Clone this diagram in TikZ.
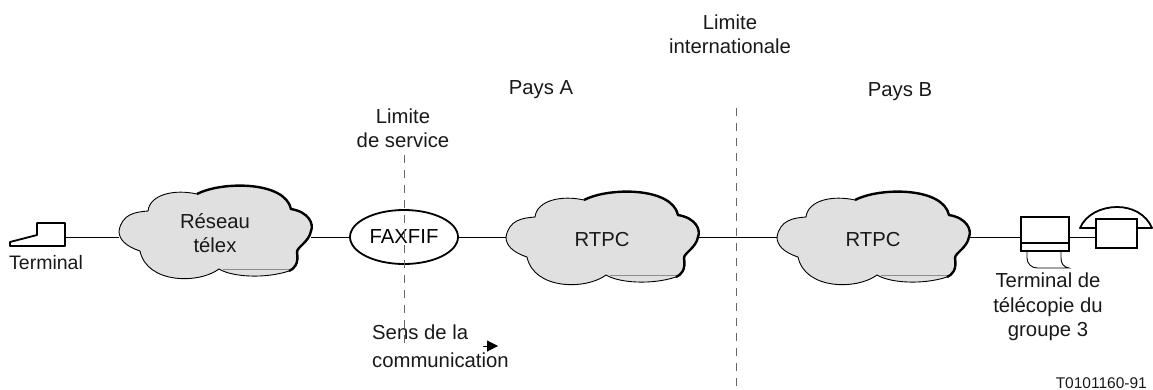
\documentclass[tikz,border=0pt]{standalone}
\usepackage{fontspec}
\setmainfont{Liberation Sans}
\usetikzlibrary{arrows.meta,shapes.geometric}
\definecolor{cloud-gray}{HTML}{E0E0E0}
\definecolor{limit-gray}{HTML}{666666}
\tikzset{
    label-text/.style = {align=center, inner sep=0pt, text=black!90},
    cloud-box/.style = {rectangle, minimum width=192pt, minimum height=96pt, inner sep=0pt, align=center, text=black!90},
    icon-box/.style = {draw=black, fill=white, line width=1.8pt, rectangle, inner sep=0pt},
    limit-line/.style = {draw=limit-gray, line width=1pt, dash pattern=on 8pt off 7pt},
    link-line/.style = {draw=black, line width=1pt},
    cloud-blob/.pic = {
        \fill[cloud-gray, draw=black, line width=0.9pt] (-96,-1) .. controls (-93,-18) and (-80,-20) .. (-67,-21)
            .. controls (-65,-38) and (-40,-43) .. (-18,-38)
            .. controls (7,-51) and (70,-51) .. (76,-23)
            .. controls (94,-20) and (99,-8) .. (96,-1)
            .. controls (94,10) and (82,15) .. (82,20)
            .. controls (84,32) and (79,37) .. (74,39)
            .. controls (50,47) and (17,45) .. (4,37)
            .. controls (-16,52) and (-68,52) .. (-75,19)
            .. controls (-90,14) and (-96,7) .. (-96,-1) -- cycle;
        \draw[black, line width=2.4pt] (-18,-38) .. controls (7,-51) and (70,-51) .. (76,-23)
            .. controls (94,-20) and (99,-8) .. (96,-1)
            .. controls (94,10) and (82,15) .. (82,20)
            .. controls (84,32) and (79,37) .. (74,39);
        \draw[black!45, line width=0.7pt] (8,37) -- (74,37);
    },
}
\begin{document}
\begin{tikzpicture}[x=1pt, y=-1pt, every node/.append style={font=\fontsize{20.3}{24.4}\selectfont}]
\useasboundingbox (0,0) rectangle (1153,389);

\pic at (215,232) {cloud-blob};
\pic at (602,238) {cloud-blob};
\pic at (873,238) {cloud-blob};
\node[cloud-box] (telex) at (215,233) {Réseau\\télex};
\node[cloud-box, text height=19pt, text depth=0pt] (rtpc-a) at (602,237) {RTPC};
\node[cloud-box, text height=19pt, text depth=0pt] (rtpc-b) at (873,237) {RTPC};
\node[draw=black, fill=white, line width=1.8pt, ellipse, minimum width=108pt, minimum height=54pt, inner sep=0pt] (faxfif) at (404,237) {FAXFIF};

\coordinate (service-top) at (404,155);
\coordinate (service-bottom) at (404,347);
\coordinate (border-top) at (736,108);
\coordinate (border-bottom) at (736,389);
\draw[limit-line] (service-top) -- (service-bottom);
\draw[limit-line] (border-top) -- (border-bottom);

% terminal
\draw[black, line width=1.8pt, line join=round] (37,223) -- (65,223) -- (65,246) -- (10,246) -- (10,242) -- (37,235) -- cycle;
\coordinate (terminal) at (65,237);
\node[label-text, font=\fontsize{19.5}{24}\selectfont] (terminal-text) at (46,263) {Terminal};

% fax and telephone
\node[icon-box, minimum width=48pt, minimum height=34pt] (fax) at (1045,234) {};
\draw[black, line width=1.8pt] (fax.west |- 0,243) -- (fax.east |- 0,243);
\draw[black, line width=0.9pt] (1027,251) -- (1027,258) .. controls (1027,264) and (1032,268) .. (1037,268) -- (1069,268) .. controls (1063,267) and (1061,263) .. (1061,258) -- (1061,251);
\draw[black, fill=white, line width=1.8pt, line join=round] (1080,228) .. controls (1086,214) and (1102,207) .. (1117,207) .. controls (1132,207) and (1146,214) .. (1152,228) -- cycle;
\node[icon-box, minimum width=41pt, minimum height=29pt] (phone) at (1116.5,233.5) {};

\draw[link-line] (terminal) -- (terminal -| telex.west);
\draw[link-line] (telex.east |- faxfif) -- (faxfif.west);
\draw[link-line] (faxfif.east) -- (rtpc-a.west);
\draw[link-line] (rtpc-a.east) -- (rtpc-b.west);
\draw[link-line] (rtpc-b.east) -- (fax.west |- rtpc-b);
\draw[link-line] (fax.east |- rtpc-b) -- (phone.west |- rtpc-b);

\node[label-text] (border-text) at (730,34) {Limite\\internationale};
\node[label-text] (pays-a) at (541,90) {Pays A};
\node[label-text] (pays-b) at (900,92) {Pays B};
\node[label-text] (service-text) at (403,128) {Limite\\de service};
\node[label-text, anchor=north west, align=left] (sens-text) at (372,325) {Sens de la\\[3.5pt]communication};
\node[label-text] (fax-text) at (1048,307) {Terminal de\\télécopie du\\groupe 3};
\node[label-text, anchor=base east, font=\fontsize{15.5}{18}\selectfont] (ref-text) at (1147,388) {T0101160-91};

\coordinate (sens-start) at (483,346);
\coordinate (sens-end) at (498,346);
\draw[black, line width=1pt, -{Triangle[length=11pt, width=11pt]}] (sens-start) -- (sens-end);
\end{tikzpicture}
\end{document}
